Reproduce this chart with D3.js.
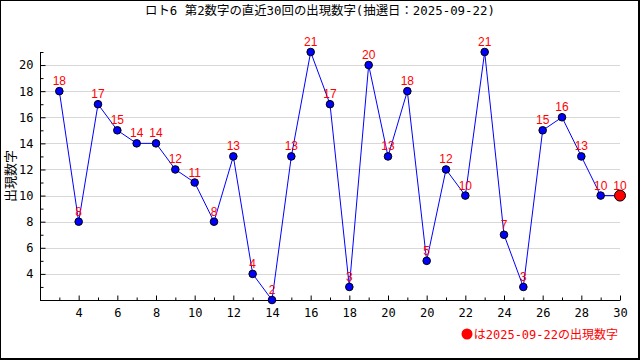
<!DOCTYPE html>
<html><head><meta charset="utf-8">
<script src="https://cdn.jsdelivr.net/npm/d3@7"></script>
<style>
body{margin:0;background:#fff;}
svg{display:block;}
</style></head>
<body>
<svg id="c" width="640" height="360"></svg>
<script>
const title = "ロト6 第2数字の直近30回の出現数字(抽選日：2025-09-22)";
const yLabel = "出現数字";
const legendText = "は2025-09-22の出現数字";
const draws = d3.range(1, 31);
const values = [18,8,17,15,14,14,12,11,8,13,4,2,13,21,17,3,20,13,18,5,12,10,21,7,3,15,16,13,10,10];
const xTickPos = [2,4,6,8,10,12,14,16,18,20,22,24,26,28,30];
const xTickLabels = ["4","6","8","10","12","14","16","18","20","20","22","24","26","28","30"];
const yTicks = [4,6,8,10,12,14,16,18,20];

const MONO = "'DejaVu Sans Mono', 'Noto Sans CJK JP', monospace";
const svg = d3.select("#c");
const W = 640, H = 360;
svg.append("rect").attr("width", W).attr("height", H).attr("fill", "#fff");
// frame
svg.append("rect").attr("x", 0.5).attr("y", 0.5).attr("width", W - 2).attr("height", H - 2)
  .attr("fill", "none").attr("stroke", "#000").attr("stroke-width", 1);
svg.append("line").attr("x1", W - 1).attr("x2", W - 1).attr("y1", 0).attr("y2", H).attr("stroke", "#000").attr("stroke-width", 2);
svg.append("line").attr("x1", 0).attr("x2", W).attr("y1", H - 1).attr("y2", H - 1).attr("stroke", "#000").attr("stroke-width", 2);

const x = d3.scaleLinear().domain([0, 30]).range([40, 620]);
const y = d3.scaleLinear().domain([2, 21]).range([300, 52]);

// grid
svg.append("g").selectAll("line").data(yTicks).join("line")
  .attr("x1", 41).attr("x2", 620)
  .attr("y1", d => Math.round(y(d)) + 0.5).attr("y2", d => Math.round(y(d)) + 0.5)
  .attr("stroke", "#d8d8d8");

// title
svg.append("text").attr("x", 320).attr("y", 15).attr("text-anchor", "middle")
  .style("font-family", MONO).style("font-size", "12.4px").attr("fill", "#000").text(title);

// y axis
const yAxis = d3.axisLeft(y).tickValues(yTicks).tickSize(-5).tickPadding(7);
const gy = svg.append("g").attr("transform", "translate(40.5,0)").call(yAxis);
const yMinor = d3.axisLeft(y).tickValues(d3.range(3, 22, 2)).tickSize(-3).tickFormat("");
svg.append("g").attr("transform", "translate(40.5,0)").call(yMinor).select(".domain").remove();

// x axis
const xAxis = d3.axisBottom(x).tickValues(xTickPos).tickSize(-5).tickPadding(8)
  .tickFormat((d, i) => xTickLabels[i]);
const gx = svg.append("g").attr("transform", "translate(0,300.5)").call(xAxis);
const xMinor = d3.axisBottom(x).tickValues(d3.range(1, 30, 2)).tickSize(-3).tickFormat("");
svg.append("g").attr("transform", "translate(0,300.5)").call(xMinor).select(".domain").remove();

[gx, gy].forEach(g => {
  g.selectAll("text").attr("fill", "#000")
    .style("font-family", "'DejaVu Sans Mono', monospace").style("font-size", "12px");
  g.select(".domain").attr("stroke", "#000");
});
svg.selectAll(".tick line").attr("stroke", "#000");
gx.select(".domain").attr("d", "M40,0H620");
gy.select(".domain").attr("d", "M0,300V52");

// y label
svg.append("text").attr("transform", "translate(15,176) rotate(-90)")
  .attr("text-anchor", "middle").attr("fill", "#000")
  .style("font-family", "'Noto Sans CJK JP'").style("font-size", "13px").text(yLabel);

// line
const line = d3.line().x((d, i) => x(draws[i])).y(d => y(d));
svg.append("path").datum(values).attr("d", line)
  .attr("fill", "none").attr("stroke", "#0000ff").attr("stroke-width", 1);

// points
const n = values.length;
svg.append("g").selectAll("circle").data(values).join("circle")
  .attr("cx", (d, i) => x(draws[i])).attr("cy", d => y(d))
  .attr("r", (d, i) => i === n - 1 ? 5.5 : 3.8)
  .attr("fill", (d, i) => i === n - 1 ? "#ff0000" : "#0000ff")
  .attr("stroke", "#000").attr("stroke-width", 1);

// value labels
svg.append("g").selectAll("text").data(values).join("text")
  .attr("x", (d, i) => x(draws[i])).attr("y", d => y(d) - 6)
  .attr("text-anchor", "middle").attr("fill", "#ff0000")
  .style("font-family", "'Liberation Sans', Arial, sans-serif").style("font-size", "12px")
  .text(d => d);

// legend
svg.append("circle").attr("cx", 467).attr("cy", 334).attr("r", 5.5).attr("fill", "#ff0000");
svg.append("text").attr("x", 618).attr("y", 339).attr("text-anchor", "end")
  .attr("fill", "#ff0000")
  .style("font-family", MONO).style("font-size", "12px").text(legendText);
</script>
</body></html>
